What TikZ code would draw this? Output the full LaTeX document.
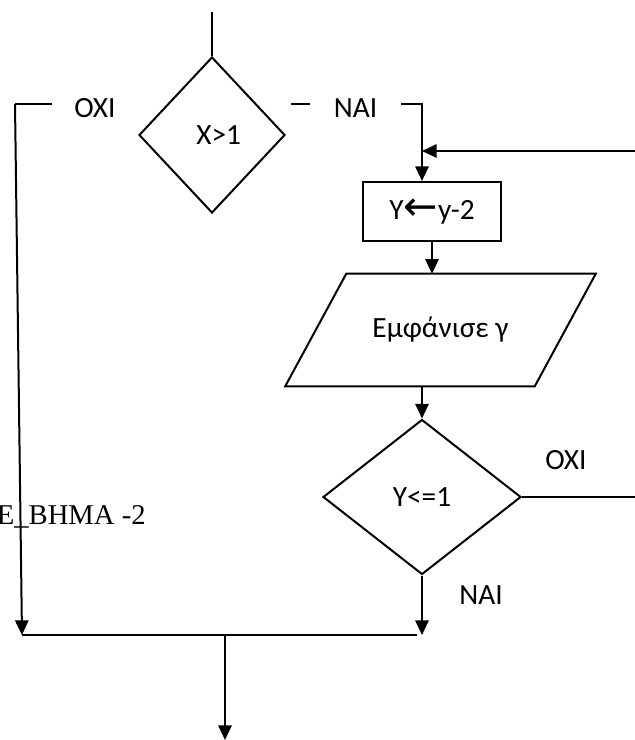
\documentclass[tikz,border=0pt]{standalone}
\usepackage{fontspec}
\setmainfont{Carlito}
\newfontfamily\tms{Liberation Serif}
\newfontfamily\sym{DejaVu Sans}
\usetikzlibrary{arrows.meta, shapes.geometric}
\tikzset{
  dec/.style={diamond, draw, line width=1.5pt, aspect=1, inner sep=0pt},
  proc/.style={rectangle, draw, line width=1.5pt, inner sep=0pt},
  tra/.style={-{Triangle[length=11pt, width=10pt]}, line width=1.5pt},
  lin/.style={line width=1.5pt},
  tlab/.style={inner sep=0pt}
}

\begin{document}
\begin{tikzpicture}[x=0.75pt, y=-0.75pt, font=\fontsize{22}{26}\selectfont]
		\useasboundingbox (0,0) rectangle (635,740);
		\node[dec, minimum width=109.5pt, minimum height=117pt] (c1) at (212,135) {\hspace{10pt}X>1};
		\node[proc, minimum width=103.5pt, minimum height=44.25pt] (calc) at (432,211.5) {Y\raisebox{-0.5pt}{\scalebox{1.4}{\sym ←}}y-2};
		\node[tlab, minimum width=186.75pt, minimum height=84pt] (show) at (440.5,330) {Εμφάνισε γ};
		\node[dec, minimum width=148.5pt, minimum height=116.25pt] (c2) at (422,497) {Y<=1};
		\node[tlab] (oxi1) at (95,108) {OXI};
		\node[tlab, minimum width=68.25pt] (nai1) at (355.5,108) {NAI};
		\node[tlab] (oxi2) at (566,460) {OXI};
		\node[tlab] (nai2) at (481,595) {NAI};
		\node[tlab, anchor=base east, font=\tms\fontsize{21.5}{26}\selectfont] (bhma) at (146,524) {E\_BHMA -2};
		\coordinate (top) at (212,12);
		\coordinate (oxa) at (52,104);
		\coordinate (oxb) at (15,104);
		\coordinate (nya) at (291,104);
		\coordinate (bend) at (422,104);
		\coordinate (back) at (635,151);
		\coordinate (jl) at (22,635);
		\coordinate (jr) at (417,635);
		\coordinate (jm) at (225,635);
		\coordinate (out) at (225,740);
		\draw[lin] ([xshift=-22.875pt]show.south west) -- ([xshift=-22.875pt]show.south east) -- ([xshift=22.875pt]show.north east) -- ([xshift=22.875pt]show.north west) -- cycle;
		\draw[lin] (top) -- (top |- c1.north);
		\draw[lin] (oxa) -- (oxb); \draw[tra] (oxb) -- (jl);
		\draw[lin] (nya) -- (nya -| nai1.west);
		\draw[tra] (nai1.east |- bend) -- (bend) -- (bend |- calc.north);
		\draw[tra] (back) -- (back -| bend);
		\draw[tra] (calc.south) -- (calc.south |- show.north);
		\draw[tra] (show.south -| c2.north) -- (c2.north);
		\draw[lin] (c2.east) -- (c2.east -| back);
		\draw[tra] (c2.south) -- (c2.south |- jl);
		\draw[lin] (jl) -- (jr);
		\draw[tra] (jm) -- (out);
	\end{tikzpicture}
\end{document}
